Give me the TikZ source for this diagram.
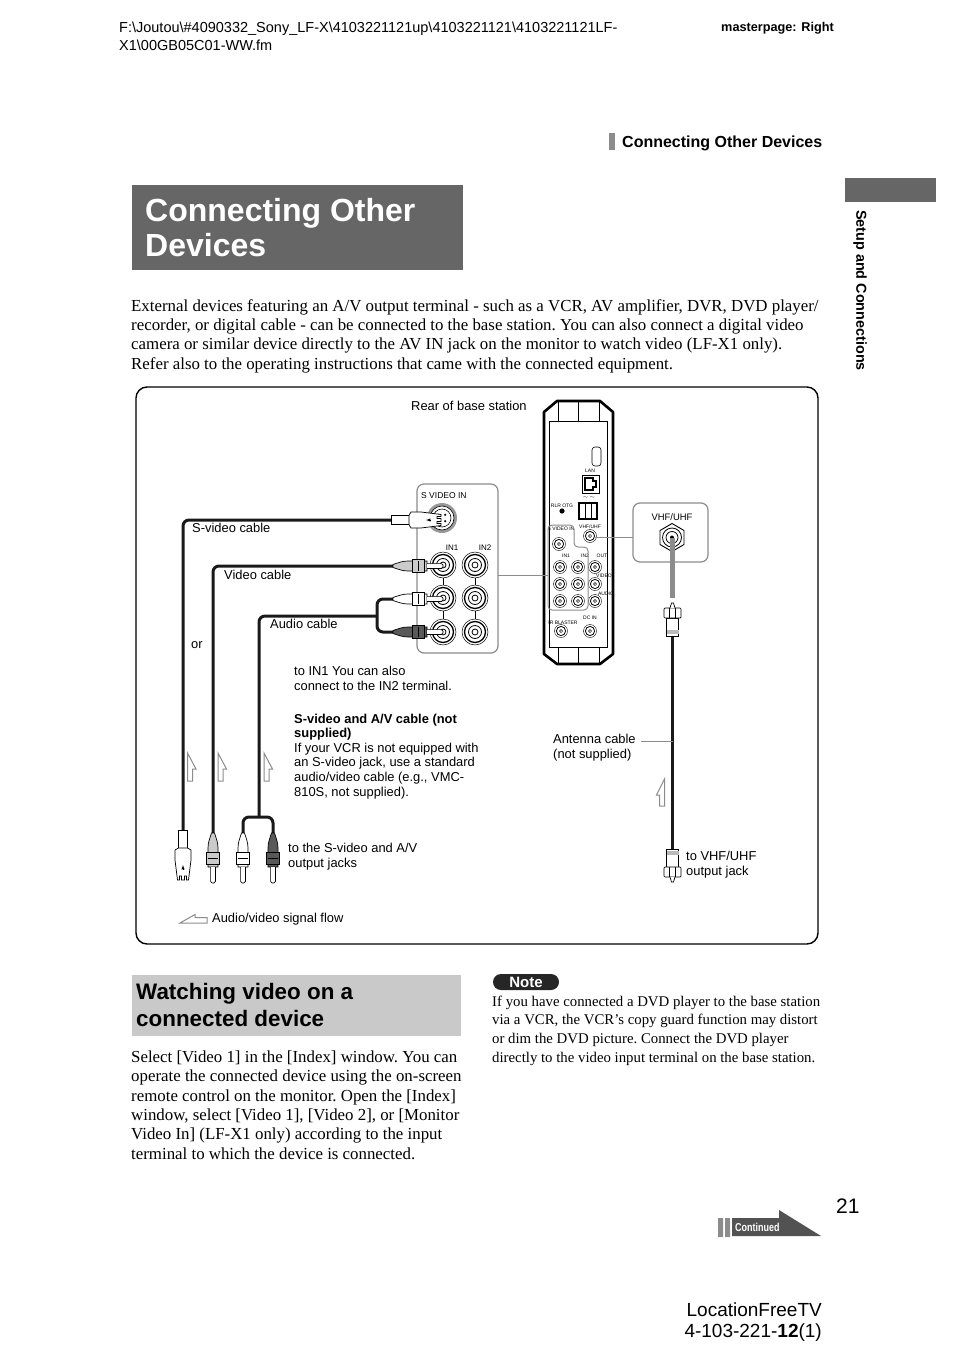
\documentclass[tikz,border=0pt]{standalone}
\usepackage{fontspec}
\setmainfont{Liberation Serif}
\setsansfont{Liberation Sans}
\usetikzlibrary{positioning}

\definecolor{darkbar}{HTML}{666666}
\definecolor{headbar}{HTML}{C9C9C9}
\definecolor{linegray}{HTML}{8C8C8C}

\tikzset{
  pics/jackbig/.style={code={
    \draw[line width=.5pt,fill=white] (0,0) circle (13);
    \draw[line width=1.3pt] (0,0) circle (10.5);
    \draw[line width=.8pt] (0,0) circle (6.5);
    \draw[line width=.8pt] (0,0) circle (3);
  }},
  pics/jacksmall/.style={code={
    \draw[line width=.4pt,fill=white] (0,0) circle (6.5);
    \draw[line width=.8pt] (0,0) circle (4.6);
    \draw[line width=.5pt] (0,0) circle (1.6);
  }},
  pics/rcaplug/.style={code={
    \draw[line width=.7pt,fill=#1] (-1.5,0) .. controls (-3,5) and (-5,9) .. (-5,15)
      -- (-5,34) -- (5,34) -- (5,15) .. controls (5,9) and (3,5) .. (1.5,0) -- cycle;
    \draw[line width=.7pt,fill=#1] (-6.5,19) rectangle (6.5,31);
    \draw[line width=.5pt] (-5,25) -- (5,25);
    \draw[line width=.7pt,fill=white,rounded corners=1.5pt] (-2.4,34) -- (-2.4,50) -- (2.4,50) -- (2.4,34);
  }},
  pics/svidplug/.style={code={
    \draw[line width=.7pt,fill=white] (-4.5,0) rectangle (4.5,18);
    \draw[line width=.7pt,fill=white] (-4.5,18) -- (-8,20) -- (-8,30) -- (-5.5,50) -- (-3.5,50) -- (-3.5,46)
      -- (-1.5,46) -- (-1.5,50) -- (1.5,50) -- (1.5,46) -- (3.5,46) -- (3.5,50) -- (5.5,50) -- (8,30) -- (8,20) -- (4.5,18) -- cycle;
    \draw[line width=.5pt,-latex] (0,40) -- (0,35);
  }},
  pics/coaxplug/.style={code={
    \draw[line width=.7pt,fill=white] (-6,0) rectangle (6,18);
    \fill[linegray!60] (-6,2) rectangle (6,6);
    \draw[line width=.7pt,fill=white,rounded corners=1pt] (-8.5,18) -- (-8.5,28) -- (8.5,28) -- (8.5,18) -- cycle;
    \draw[line width=.4pt] (-3,18) -- (-3,28) (3,18) -- (3,28);
    \draw[line width=.7pt,fill=white] (-2.5,28) -- (-1,33) -- (1,33) -- (2.5,28);
  }},
  flowarrow/.style={draw=linegray,fill=white,line width=1pt,line join=miter},
  cable/.style={line width=3pt,draw=black!90,rounded corners=6pt},
  leader/.style={draw=linegray,line width=1pt},
  inset/.style={draw=linegray,line width=1.2pt,rounded corners=7pt,fill=white},
  lbl/.style={inner sep=0pt,anchor=base west,align=left,font=\sffamily\fontsize{12.9}{14.6}\selectfont},
  tiny/.style={inner sep=0pt,font=\sffamily\fontsize{5}{5}\selectfont},
  bodytext/.style={inner sep=0pt,anchor=base west,align=left,font=\rmfamily\frenchspacing\fontsize{16.85}{19.3}\selectfont},
  notetext/.style={inner sep=0pt,anchor=base west,align=left,font=\rmfamily\frenchspacing\fontsize{14.8}{18.67}\selectfont},
}

\begin{document}
\begin{tikzpicture}[x=1pt,y=-1pt]
\useasboundingbox (0,0) rectangle (954,1351);

% page header
\node[inner sep=0pt,anchor=base west,align=left,font=\sffamily\fontsize{14.5}{18}\selectfont] (path) at (119,51)
  {F:\textbackslash Joutou\textbackslash\#4090332\_Sony\_LF-X\textbackslash 4103221121up\textbackslash 4103221121\textbackslash 4103221121LF-\\X1\textbackslash 00GB05C01-WW.fm};
\node[inner sep=0pt,anchor=base west,font=\sffamily\bfseries\fontsize{12.7}{14}\selectfont] (master) at (721,32) {masterpage: Right};
\fill[linegray] (609,133) rectangle (615,150);
\node[inner sep=0pt,anchor=base west,font=\sffamily\bfseries\fontsize{16}{18}\selectfont] (running) at (622,148) {Connecting Other Devices};

% side tab
\fill[darkbar] (845,178) rectangle (936,202);
\node[inner sep=0pt,rotate=-90,anchor=west,font=\sffamily\bfseries\fontsize{14.4}{15}\selectfont] (side) at (860,210) {Setup and Connections};

% title
\fill[darkbar] (132,185) rectangle (463,270);
\node[inner sep=0pt,anchor=base west,align=left,text=white,font=\sffamily\bfseries\fontsize{32}{35}\selectfont] (title) at (145,256) {Connecting Other\\Devices};

\node[bodytext] (intro) at (131,369) {External devices featuring an A/V output terminal - such as a VCR, AV amplifier, DVR, DVD player/\\recorder, or digital cable - can be connected to the base station. You can also connect a digital video\\camera or similar device directly to the AV IN jack on the monitor to watch video (LF-X1 only).\\Refer also to the operating instructions that came with the connected equipment.};

% figure frame
\draw[line width=1.4pt,rounded corners=11pt] (136,387) rectangle (818,944);
\node[lbl] (rear) at (411,410) {Rear of base station};

% base station
\draw[line width=2.6pt,line join=round] (557,401) -- (600,401) -- (613,412) -- (613,654) -- (600,664) -- (557,664) -- (544,654) -- (544,412) -- cycle;
\draw[line width=.8pt] (549,421) rectangle (607,647);
\draw[line width=.6pt] (558,401) -- (558,421) (578,401) -- (578,421) (599,401) -- (599,421)
  (558,647) -- (558,664) (578,647) -- (578,664) (599,647) -- (599,664);
\draw[line width=.6pt,rounded corners=3pt] (592,447) rectangle (601,466);
\node[tiny] (lan) at (590,471) {LAN};
\draw[line width=.9pt] (582,475) rectangle (599,493);
\draw[line width=1.2pt] (585,478) -- (593,478) -- (593,481) -- (596,481) -- (596,487) -- (593,487) -- (593,490) -- (585,490) -- cycle;
\node[tiny] (usb) at (589,498) {$\sim\ \sim$};
\draw[line width=1.2pt] (579,503) rectangle (597,519);
\draw[line width=1pt] (585,503) -- (585,519) (591,503) -- (591,519);
\node[tiny] (serial) at (562,506) {RLR OTG};
\fill (562,511) circle (2.6);
\node[tiny] (vhfsmall) at (590,527) {VHF/UHF};
\pic at (590,536) {jacksmall};
\pic at (559,544) {jacksmall};
\node[tiny] (svsmall) at (561,529) {S VIDEO IN};
\foreach \jx in {560,578,595} \foreach \jy in {567,584,601} \pic at (\jx,\jy) {jacksmall};
\node[tiny] (smallin1) at (566,556) {IN1};
\node[tiny] (smallin2) at (585,556) {IN2};
\node[tiny] (smallout) at (602,556) {OUT};
\node[tiny] (smallvid) at (604,576) {VIDEO};
\node[tiny] (smallaud) at (606,594) {AUDIO};
\node[tiny] (blaster) at (563,623) {IR BLASTER};
\pic at (561,631) {jacksmall};
\node[tiny] (dcin) at (590,618) {DC IN};
\pic at (590,631) {jacksmall};
\draw[draw=linegray,line width=1pt,rounded corners=4pt] (548,525) -- (574,525) -- (574,547) -- (588,547) -- (588,610) -- (548,610) -- cycle;

% inset with the terminals
\draw[inset] (417,484) rectangle (498,653);
\node[tiny,font=\sffamily\fontsize{8.5}{10}\selectfont,anchor=base west] (svin) at (421,498) {S VIDEO IN};
\node[tiny,font=\sffamily\fontsize{8}{10}\selectfont] (in1) at (452,548) {IN1};
\node[tiny,font=\sffamily\fontsize{8}{10}\selectfont] (in2) at (485,548) {IN2};
\draw[line width=.5pt] (443,578) -- (443,585) (443,611) -- (443,619) (475,578) -- (475,585) (475,611) -- (475,619);
\foreach \jx in {443,475} \foreach \jy in {565,598,632} \pic at (\jx,\jy) {jackbig};
\fill[black!40] (442,518) circle (15);
\draw[line width=.6pt,fill=white] (442,518) circle (12);
\draw[line width=.6pt,fill=white] (442,518) circle (9);
\foreach \pa in {45,135,225,315} \fill (442,518) ++(\pa:4.5) circle (1.2);

\draw[leader] (498,575) -- (548,575);

% VHF inset
\draw[inset] (633,503) rectangle (708,562);
\node[tiny,font=\sffamily\fontsize{9.4}{11}\selectfont] (vhf) at (672,517) {VHF/UHF};
\draw[leader] (594,537) -- (633,537);
\draw[line width=.9pt,fill=white] (672,523.5) -- (684,530.5) -- (684,544.5) -- (672,551.5) -- (660,544.5) -- (660,530.5) -- cycle;
\draw[line width=.8pt] (672,537.5) circle (9.5);
\draw[line width=.8pt] (672,537.5) circle (6);
\fill (672,537.5) circle (2);
\coordinate (vhfjack) at (672.5,538);
\coordinate (antin) at (672.5,598);
\draw[linegray,line width=5pt] (vhfjack) -- (antin);

% antenna cable
\coordinate (anttop) at (672.5,636);
\coordinate (antbot) at (672.5,849);
\draw[line width=3pt,black!90] (anttop) -- (antbot);
\pic[rotate=180] at (anttop) {coaxplug};
\pic at (antbot) {coaxplug};
\coordinate (antmid) at (672.5,741);
\draw[draw=linegray,line width=.7pt] (641,741) -- (antmid);
\node[lbl] (antlbl) at (553,758) {Antenna cable\\(not supplied)};
\node[lbl] (vhfout) at (686,875) {to VHF/UHF\\output jack};
\draw[flowarrow] (664.5,779) -- (656.5,795) -- (659.5,795) -- (659.5,806) -- (664.5,806) -- cycle;

% left cables
\coordinate (svtop) at (391,520);
\coordinate (svbot) at (183,830);
\coordinate (vidtop) at (393,566);
\coordinate (vidbot) at (213,833);
\coordinate (audsplit) at (377,616);
\coordinate (audbot) at (259,817);
\coordinate (audw) at (393,599);
\coordinate (audr) at (393,632);
\coordinate (plugw) at (243,833);
\coordinate (plugr) at (273,833);
\draw[cable] (svtop) -- (183,520) -- (svbot);
\draw[cable] (vidtop) -- (213,566) -- (vidbot);
\draw[cable] (audsplit) -- (259,616) -- (audbot);
\draw[cable] (audw) -- (377,599) -- (377,632) -- (audr);
\draw[cable] (plugw) -- (243,817) -- (273,817) -- (plugr);
\pic[rotate=90] at (svtop) {svidplug};
\pic[rotate=90] at (vidtop) {rcaplug=linegray!45};
\pic[rotate=90] at (audw) {rcaplug=white};
\pic[rotate=90] at (audr) {rcaplug=black!65};
\pic at (svbot) {svidplug};
\pic at (vidbot) {rcaplug=linegray!45};
\pic at (plugw) {rcaplug=white};
\pic at (plugr) {rcaplug=black!65};

\foreach \ax in {187.5,218,264}
  \draw[flowarrow] (\ax,753) -- (\ax+8.5,769) -- (\ax+5,769) -- (\ax+5,781) -- (\ax,781) -- cycle;
\draw[flowarrow] (180,923) -- (195,914.5) -- (195,917.5) -- (207,917.5) -- (207,923) -- cycle;

\node[lbl] (svlbl) at (192,532) {S-video cable};
\node[lbl] (vidlbl) at (224,579) {Video cable};
\node[lbl] (audlbl) at (270,628) {Audio cable};
\node[lbl] (orlbl) at (191,648) {or};
\node[lbl] (in1lbl) at (294,690) {to IN1 You can also\\connect to the IN2 terminal.};
\node[lbl] (avlbl) at (294,796) {\textbf{S-video and A/V cable (not}\\\textbf{supplied)}\\If your VCR is not equipped with\\an S-video jack, use a standard\\audio/video cable (e.g., VMC-\\810S, not supplied).};
\node[lbl] (outlbl) at (288,867) {to the S-video and A/V\\output jacks};
\node[lbl] (flowlbl) at (212,922) {Audio/video signal flow};

% lower columns
\fill[headbar] (132,975) rectangle (461,1036);
\node[inner sep=0pt,anchor=base west,align=left,font=\sffamily\bfseries\fontsize{22.4}{27}\selectfont] (watch) at (136,1026) {Watching video on a\\connected device};
\node[bodytext] (select) at (131,1159) {Select [Video 1] in the [Index] window. You can\\operate the connected device using the on-screen\\remote control on the monitor. Open the [Index]\\window, select [Video 1], [Video 2], or [Monitor\\Video In] (LF-X1 only) according to the input\\terminal to which the device is connected.};
\node[fill=black!85,rounded corners=8pt,minimum width=66pt,minimum height=16pt,inner sep=0pt,text=white,font=\sffamily\bfseries\fontsize{15}{16}\selectfont] (note) at (526,982) {Note};
\node[notetext] (notebody) at (492,1062) {If you have connected a DVD player to the base station\\via a VCR, the VCR’s copy guard function may distort\\or dim the DVD picture. Connect the DVD player\\directly to the video input terminal on the base station.};

% page foot
\node[inner sep=0pt,anchor=base west,font=\sffamily\fontsize{21}{23}\selectfont] (pageno) at (836,1213) {21};
\fill[linegray] (718,1218) rectangle (723,1237) (725,1218) rectangle (730,1237);
\fill[black!68] (732,1218) -- (779,1218) -- (779,1210) -- (821,1236) -- (732,1236) -- cycle;
\node[inner sep=0pt,anchor=base west,text=white,xscale=.78,font=\sffamily\bfseries\fontsize{11.5}{12}\selectfont] (cont) at (735,1231) {Continued};
\node[inner sep=0pt,anchor=base east,font=\sffamily\fontsize{19}{21}\selectfont] (prod) at (822,1316) {LocationFreeTV};
\node[inner sep=0pt,anchor=base east,font=\sffamily\fontsize{19}{21}\selectfont] (code) at (822,1337) {4-103-221-\textbf{12}(1)};
\end{tikzpicture}
\end{document}
